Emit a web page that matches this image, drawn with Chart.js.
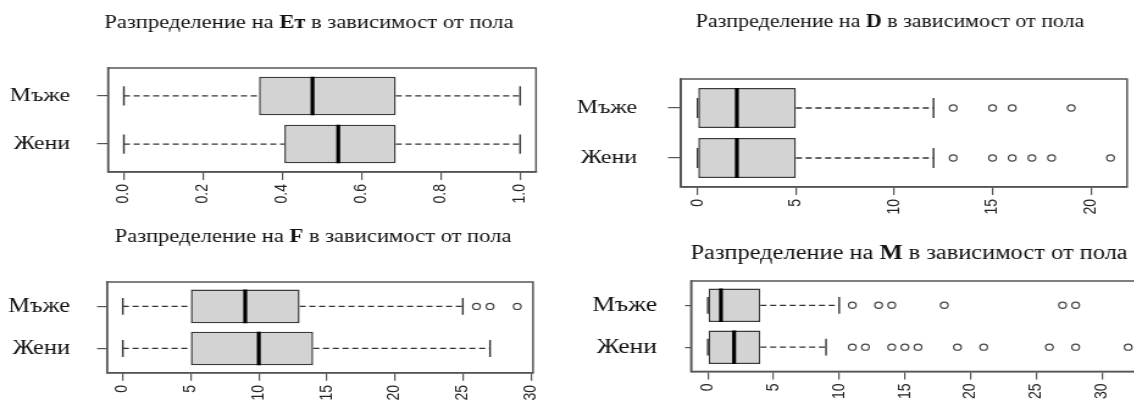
<!DOCTYPE html>
<html>
<head>
<meta charset="utf-8">
<script src="https://cdn.jsdelivr.net/npm/chart.js@4.4.0/dist/chart.umd.min.js"></script>
<style>
html, body { margin: 0; padding: 0; background: #fff; overflow: hidden; width: 1134px; height: 407px; }
canvas { position: absolute; transform-origin: 0 0; }
</style>
</head>
<body>
<canvas id="etChart"></canvas>
<canvas id="dChart"></canvas>
<canvas id="fChart"></canvas>
<canvas id="mChart"></canvas>
<script>
// Групи: стойност 1 = Жени (долу), стойност 2 = Мъже (горе), както ги подрежда R
const groups = ['Жени', 'Мъже'];

// Ет: [мин, Q1, медиана, Q3, макс]
const etFemale = [0, 0.405, 0.541, 0.686, 1];
const etMale = [0, 0.341, 0.476, 0.686, 1];
const etFemaleOut = [];
const etMaleOut = [];
const etTicks = [0, 0.2, 0.4, 0.6, 0.8, 1];
const etLabels = ['0.0', '0.2', '0.4', '0.6', '0.8', '1.0'];

// D
const dFemale = [0, 0, 2, 5, 12];
const dMale = [0, 0, 2, 5, 12];
const dFemaleOut = [13, 15, 16, 17, 18, 21];
const dMaleOut = [13, 15, 16, 19];
const dTicks = [0, 5, 10, 15, 20];
const dLabels = ['0', '5', '10', '15', '20'];

// F
const fFemale = [0, 5, 10, 14, 27];
const fMale = [0, 5, 9, 13, 25];
const fFemaleOut = [];
const fMaleOut = [26, 27, 29];
const fTicks = [0, 5, 10, 15, 20, 25, 30];
const fLabels = ['0', '5', '10', '15', '20', '25', '30'];

// M
const mFemale = [0, 0, 2, 4, 9];
const mMale = [0, 0, 1, 4, 10];
const mFemaleOut = [11, 12, 14, 15, 16, 19, 21, 26, 28, 32];
const mMaleOut = [11, 13, 14, 18, 27, 28];
const mTicks = [0, 5, 10, 15, 20, 25, 30];
const mLabels = ['0', '5', '10', '15', '20', '25', '30'];

// Заглавия: [преди, удебелено, след]
const etTitle = ['Разпределение на ', 'Ет', ' в зависимост от пола'];
const dTitle = ['Разпределение на ', 'D', ' в зависимост от пола'];
const fTitle = ['Разпределение на ', 'F', ' в зависимост от пола'];
const mTitle = ['Разпределение на ', 'M', ' в зависимост от пола'];

const SERIF = '"Liberation Serif", "DejaVu Serif", serif';
const SANS = '"Liberation Sans", Arial, sans-serif';

// оригиналната картинка е разтеглена хоризонтално
const STRETCH = 1.22;

// линия между две точки, през скалите на графиката
function seg(x1, y1, x2, y2, color, width, dash) {
    return {
        type: 'scatter', showLine: true, order: 0,
        data: [{ x: x1, y: y1 }, { x: x2, y: y2 }],
        borderColor: color, borderWidth: width, borderDash: dash || [],
        pointRadius: 0, pointHoverRadius: 0, fill: false
    };
}

// рамка около областта на графиката
const framePlugin = {
    id: 'frame',
    afterDatasetsDraw(chart) {
        const { ctx, chartArea: a } = chart;
        ctx.save();
        ctx.strokeStyle = '#555';
        ctx.lineWidth = 1.5;
        ctx.strokeRect(a.left, a.top, a.right - a.left, a.bottom - a.top);
        ctx.restore();
    }
};

// заглавие със средна удебелена част
const titlePlugin = {
    id: 'richTitle',
    afterDraw(chart, args, opts) {
        const ctx = chart.ctx;
        const size = opts.size;
        const normal = `${size}px ${SERIF}`;
        const bold = `bold ${size}px ${SERIF}`;
        ctx.save();
        ctx.fillStyle = '#111';
        ctx.textBaseline = 'middle';
        ctx.textAlign = 'left';
        ctx.font = normal;
        const w0 = ctx.measureText(opts.parts[0]).width;
        const w2 = ctx.measureText(opts.parts[2]).width;
        ctx.font = bold;
        const w1 = ctx.measureText(opts.parts[1]).width;
        let x = opts.cx - (w0 + w1 + w2) / 2;
        ctx.font = normal;
        ctx.fillText(opts.parts[0], x, opts.cy);
        x += w0;
        ctx.font = bold;
        ctx.fillText(opts.parts[1], x, opts.cy);
        x += w1;
        ctx.font = normal;
        ctx.fillText(opts.parts[2], x, opts.cy);
        ctx.restore();
    }
};

// g: позиции в пиксели на страницата
function makeBoxplot(id, stats, outs, ticks, labels, title, g) {
    const canvas = document.getElementById(id);
    const W = Math.round(g.width / STRETCH), H = g.height;
    const lx = v => (v - g.x) / STRETCH;
    canvas.width = W;
    canvas.height = H;
    canvas.style.left = g.x + 'px';
    canvas.style.top = g.y + 'px';
    canvas.style.transform = `scaleX(${STRETCH})`;

    // обхват като в R: данните плюс 4% от всяка страна
    const all = stats.flat().concat(outs.flat());
    const lo = Math.min(...all), hi = Math.max(...all);
    const ext = (hi - lo) * 0.04;

    const datasets = [];
    stats.forEach((s, i) => {
        const y = i + 1;
        datasets.push(seg(s[0], y, s[1], y, '#333', 1.3, [5, 3]));
        datasets.push(seg(s[3], y, s[4], y, '#333', 1.3, [5, 3]));
        datasets.push(seg(s[0], y - 0.2, s[0], y + 0.2, '#333', 1.4));
        datasets.push(seg(s[4], y - 0.2, s[4], y + 0.2, '#333', 1.4));
        datasets.push(seg(s[2], y - 0.4, s[2], y + 0.4, '#000', 3.2));
        if (outs[i].length) {
            datasets.push({
                type: 'scatter', order: 0,
                data: outs[i].map(v => ({ x: v, y: y })),
                pointStyle: 'circle', pointRadius: 3.1, pointBorderWidth: 1.2,
                pointBorderColor: '#444', pointBackgroundColor: 'rgba(0,0,0,0)'
            });
        }
    });
    datasets.push({
        type: 'bar', order: 1,
        data: stats.map((s, i) => ({ y: i + 1, x: [s[1], s[3]] })),
        backgroundColor: '#d3d3d3', borderColor: '#3a3a3a', borderWidth: 1.5,
        borderSkipped: false, barPercentage: 0.8, categoryPercentage: 1
    });

    return new Chart(canvas, {
        type: 'bar',
        data: { datasets: datasets },
        plugins: [framePlugin, titlePlugin],
        options: {
            indexAxis: 'y',
            responsive: false,
            animation: false,
            events: [],
            layout: { padding: { top: g.top - g.y, right: W - lx(g.right), bottom: 0, left: 0 } },
            plugins: {
                legend: { display: false },
                tooltip: { enabled: false },
                richTitle: { parts: title, cx: lx(g.cx), cy: g.cy - g.y, size: g.titleSize }
            },
            scales: {
                x: {
                    type: 'linear', min: lo - ext, max: hi + ext, offset: false,
                    afterBuildTicks: s => { s.ticks = ticks.map(v => ({ value: v })); },
                    afterFit: s => { s.height = H - (g.bottom - g.y); },
                    grid: { display: true, offset: false, drawOnChartArea: false, drawTicks: true, tickLength: 8, color: '#555', lineWidth: 1.2 },
                    border: { display: true, color: '#555', width: 1.5 },
                    ticks: {
                        autoSkip: false, minRotation: 90, maxRotation: 90, padding: 4,
                        color: '#222', font: { family: SANS, size: 14 },
                        callback: (v, i) => labels[i]
                    }
                },
                y: {
                    type: 'linear', min: 0.42, max: 2.58, offset: false,
                    afterBuildTicks: s => { s.ticks = [{ value: 1 }, { value: 2 }]; },
                    afterFit: s => { s.width = lx(g.left); },
                    grid: { display: true, offset: false, drawOnChartArea: false, drawTicks: true, tickLength: g.tick / STRETCH, color: '#555', lineWidth: 1.2 },
                    border: { display: true, color: '#555', width: 1.5 },
                    ticks: {
                        padding: g.pad / STRETCH, color: '#111', font: { family: SERIF, size: g.labelSize },
                        callback: (v, i) => groups[i]
                    }
                }
            }
        }
    });
}

makeBoxplot('etChart', [etFemale, etMale], [etFemaleOut, etMaleOut], etTicks, etLabels, etTitle,
    { x: 0, y: 0, width: 560, height: 232, left: 108, right: 536, top: 68, bottom: 172,
      tick: 11, pad: 27, cx: 309, cy: 23, titleSize: 18.5, labelSize: 19.5 });
makeBoxplot('dChart', [dFemale, dMale], [dFemaleOut, dMaleOut], dTicks, dLabels, dTitle,
    { x: 560, y: 0, width: 574, height: 240, left: 681, right: 1130, top: 79, bottom: 187,
      tick: 13, pad: 31, cx: 890, cy: 22, titleSize: 18, labelSize: 19.5 });
makeBoxplot('fChart', [fFemale, fMale], [fFemaleOut, fMaleOut], fTicks, fLabels, fTitle,
    { x: 0, y: 215, width: 560, height: 192, left: 107, right: 533, top: 282, bottom: 374,
      tick: 10, pad: 27, cx: 313, cy: 237, titleSize: 18.5, labelSize: 20 });
makeBoxplot('mChart', [mFemale, mMale], [mFemaleOut, mMaleOut], mTicks, mLabels, mTitle,
    { x: 560, y: 225, width: 600, height: 182, left: 691, right: 1145, top: 281, bottom: 379,
      tick: 6, pad: 28, cx: 909, cy: 254, titleSize: 20, labelSize: 21 });
</script>
</body>
</html>
